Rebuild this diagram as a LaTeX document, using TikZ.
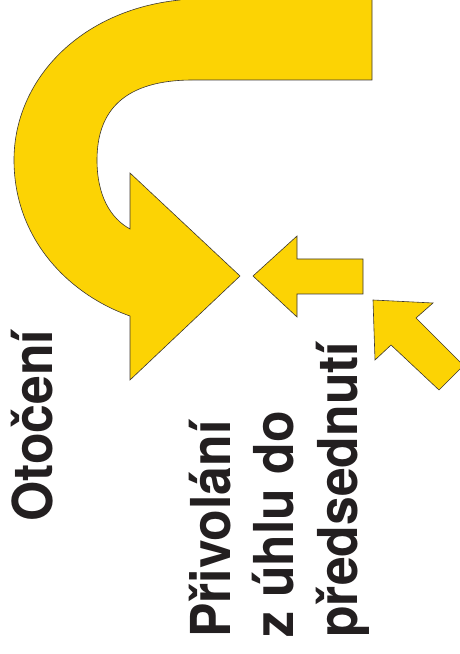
\documentclass[tikz,border=0pt]{standalone}
\usepackage{fontspec}
\newfontfamily\labelfont{TeX Gyre Heros Bold}[FakeStretch=0.94]
\definecolor{arrowgold}{RGB}{252,211,4}
\definecolor{inkdark}{RGB}{35,31,32}
\definecolor{edgegray}{RGB}{60,55,50}
\tikzset{
  goldarrow/.style={fill=arrowgold, draw=edgegray, line width=0.6pt, line join=miter},
  vlabel/.style={rotate=90, anchor=base west, inner sep=0pt, text=inkdark,
    font=\labelfont\fontsize{55}{66}\selectfont}
}
\begin{document}
\begin{tikzpicture}[x=1pt,y=1pt]
\useasboundingbox (0,0) rectangle (459,654);
% U-turn arrow
\draw[goldarrow] (372,660) -- (372,574) -- (193,574)
  .. controls (125,574) and (97,544) .. (97,494)
  .. controls (97,459) and (110,436) .. (130,425)
  -- (130,481) -- (240,378) -- (130,274) -- (130,338)
  .. controls (70,359) and (14,414) .. (14,494)
  .. controls (14,574) and (80,644) .. (180,654)
  -- (180,660) -- cycle;
% straight left arrow
\draw[goldarrow] (253,378) -- (297,418) -- (297,395) -- (363,395)
  -- (363,360) -- (297,360) -- (297,337) -- cycle;
% diagonal arrow
\draw[goldarrow] (373,354) -- (433,351) -- (416,336) -- (463.5,288.5)
  -- (439,264) -- (391,309) -- (375,294) -- cycle;
% labels
\node[vlabel] (otoceni) at (52,132) {Otočení};
\node[vlabel] (line1) at (230,16) {Přivolání};
\node[vlabel] (line2) at (293,16) {z úhlu do};
\node[vlabel] (line3) at (357,16) {předsednutí};
\end{tikzpicture}
\end{document}
